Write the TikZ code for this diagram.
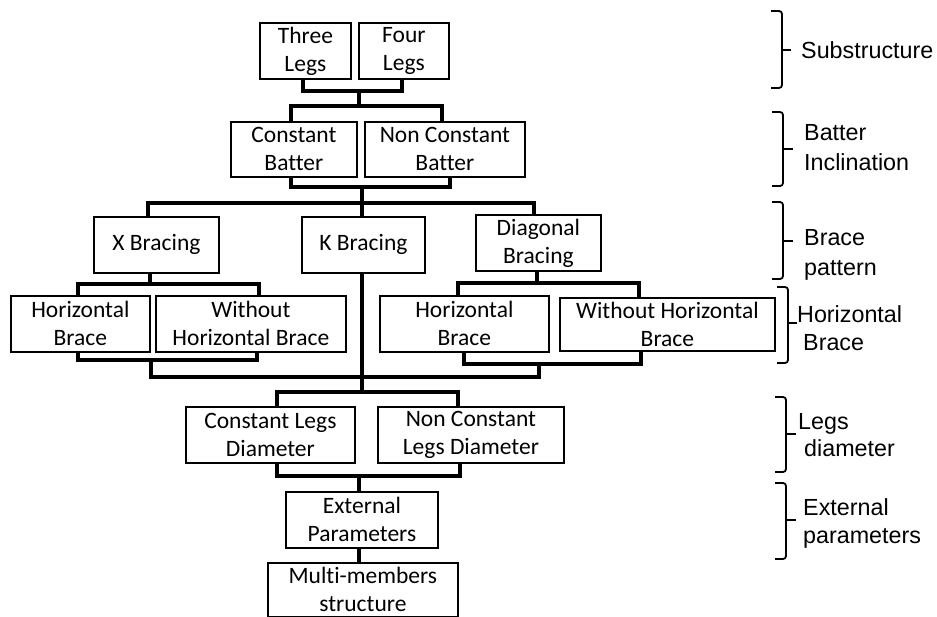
\documentclass[tikz,border=0pt]{standalone}
\usepackage{fontspec}
\setmainfont{Carlito}[Ligatures=NoCommon]
\newfontfamily\tagfont{Liberation Sans}
\begin{document}
\begin{tikzpicture}[x=1pt,y=-1pt,
  box/.style={draw, line width=1.8pt, anchor=north west, align=center, inner sep=0pt,
              font=\fontsize{23.5}{28}\selectfont},
  link/.style={line width=3.6pt, line join=miter},
  bracket/.style={line width=1.8pt, rounded corners=3pt},
  tag/.style={anchor=west, align=left, inner sep=0pt,
              font=\tagfont\fontsize{23.3}{30}\selectfont}]
\path[use as bounding box] (0,0) rectangle (937,617);

% ---- boxes ----
\node[box, minimum width=91,  minimum height=56] (three) at (259,22)  {Three\\Legs};
\node[box, minimum width=90,  minimum height=56] (four)  at (358,22)  {Four\\Legs};
\node[box, minimum width=126, minimum height=55] (cb)    at (230,121) {Constant\\Batter};
\node[box, minimum width=160, minimum height=55] (ncb)   at (364,121) {Non Constant\\Batter};
\node[box, minimum width=125, minimum height=56] (xb)    at (93,216)  {X Bracing};
\node[box, minimum width=123, minimum height=56] (kb)    at (301,216) {K Bracing};
\node[box, minimum width=125, minimum height=56] (db)    at (475,214) {Diagonal\\Bracing};
\node[box, minimum width=139, minimum height=56] (hb1)   at (10,295)  {Horizontal\\Brace};
\node[box, minimum width=190, minimum height=56] (whb1)  at (155,295) {Without\\Horizontal Brace};
\node[box, minimum width=169, minimum height=56] (hb2)   at (379,295) {Horizontal\\Brace};
\node[box, minimum width=215, minimum height=53] (whb2)  at (559,297) {Without Horizontal\\Brace};
\node[box, minimum width=169, minimum height=56] (cld)   at (185,406) {Constant Legs\\Diameter};
\node[box, minimum width=186, minimum height=56] (ncld)  at (377,406) {Non Constant\\Legs Diameter};
\node[box, minimum width=152, minimum height=56] (ext)   at (285,491) {External\\Parameters};
\node[box, minimum width=190, minimum height=54] (multi) at (267,562) {Multi-members\\structure};

% ---- connectors ----
\draw[link] (three.south -| 303,0) -- (303,91) -- (402,91) -- (four.south -| 402,0);
\draw[link] (359,91) -- (359,106);
\draw[link] (cb.north -| 291,0) -- (291,106) -- (442,106) -- (ncb.north -| 442,0);

\draw[link] (cb.south -| 291,0) -- (291,187) -- (450,187) -- (ncb.south -| 450,0);
\draw[link] (362,187) -- (kb.north -| 362,0);
\draw[link] (xb.north -| 148,0) -- (148,203) -- (534,203) -- (db.north -| 534,0);

\draw[link] (xb.south -| 150,0) -- (150,284);
\draw[link] (hb1.north -| 78,0) -- (78,284) -- (259,284) -- (whb1.north -| 259,0);
\draw[link] (hb1.south -| 78,0) -- (78,360) -- (257,360) -- (whb1.south -| 257,0);

\draw[link] (db.south -| 537,0) -- (537,283);
\draw[link] (hb2.north -| 458,0) -- (458,283) -- (639,283) -- (whb2.north -| 639,0);
\draw[link] (hb2.south -| 464,0) -- (464,364) -- (641,364) -- (whb2.south -| 641,0);

\draw[link] (151,360) -- (151,377) -- (539,377) -- (539,364);
\draw[link] (kb.south -| 362,0) -- (362,392);

\draw[link] (cld.north -| 277,0) -- (277,392) -- (458,392) -- (ncld.north -| 458,0);
\draw[link] (cld.south -| 277,0) -- (277,476) -- (460,476) -- (ncld.south -| 460,0);
\draw[link] (359,476) -- (ext.north -| 359,0);
\draw[link] (ext.south -| 359,0) -- (multi.north -| 359,0);

% ---- level brackets ----
\draw[bracket] (771,11) -- (782,11) -- (782,88) -- (771,88);
\draw[line width=1.8pt] (782,50) -- (791,50);
\draw[bracket] (772,112) -- (783,112) -- (783,186) -- (772,186);
\draw[line width=1.8pt] (783,149) -- (793,149);
\draw[bracket] (772,202) -- (783,202) -- (783,279) -- (772,279);
\draw[line width=1.8pt] (783,241) -- (793,241);
\draw[bracket] (777,287) -- (788,287) -- (788,363) -- (777,363);
\draw[line width=1.8pt] (788,323) -- (797,323);
\draw[bracket] (775,397) -- (786,397) -- (786,472) -- (775,472);
\draw[line width=1.8pt] (786,434) -- (796,434);
\draw[bracket] (775,483) -- (786,483) -- (786,559) -- (775,559);
\draw[line width=1.8pt] (786,520) -- (796,520);

% ---- level names ----
\node[tag] (t1) at (801,50)  {Substructure};
\node[tag] (t2) at (804,148) {Batter\\Inclination};
\node[tag] (t3) at (804,255) {Brace\\pattern};
\node[tag, font=\tagfont\fontsize{23.3}{28}\selectfont] (t4) at (797,328) {Horizontal\\\hspace*{6pt}Brace};
\node[tag, font=\tagfont\fontsize{23.3}{27}\selectfont] (t5) at (798,435) {Legs\\\hspace*{6pt}diameter};
\node[tag, font=\tagfont\fontsize{23.3}{28}\selectfont] (t6) at (803,523) {External\\parameters};
\end{tikzpicture}
\end{document}
